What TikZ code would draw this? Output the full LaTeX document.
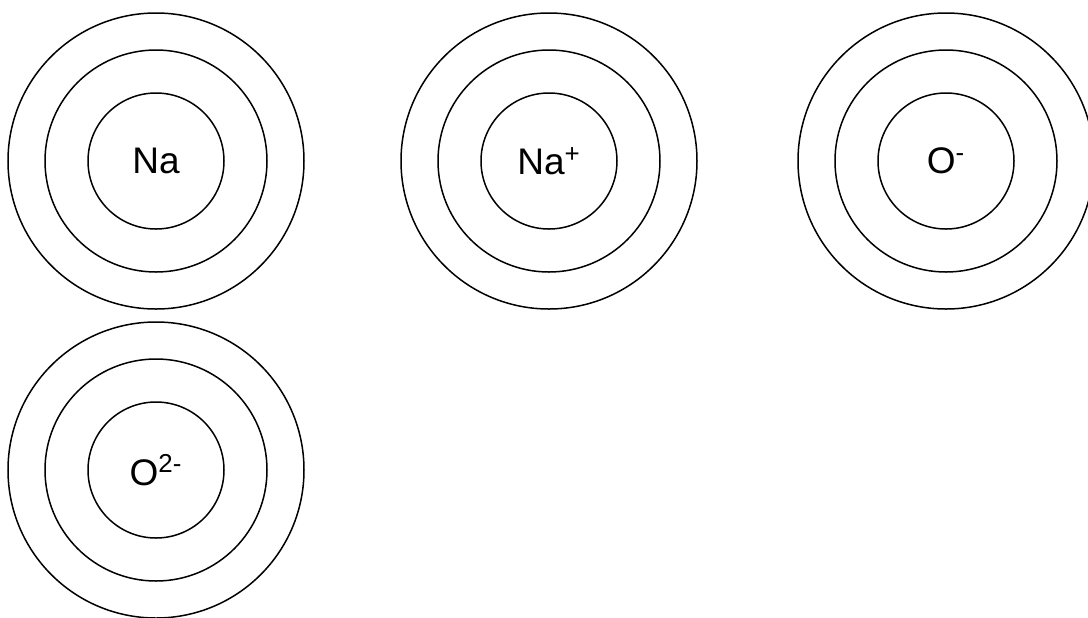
\documentclass[tikz,border=0pt]{standalone}
\usepackage{fontspec}
\setmainfont{Liberation Sans}
\usetikzlibrary{positioning}

\begin{document}
\begin{tikzpicture}[x=0.5pt, y=-0.5pt,
    shell/.style={draw, circle, line width=0.75pt, inner sep=0pt},
    symb/.style={font=\fontsize{18.5}{22}\selectfont}]
\def\ro{148}   % outer shell radius, px (= diameter in pt)
\def\rm{111}   % middle shell
\def\ri{68}    % inner shell

% page = 1088 x 617 px; circles running past the edge are cut
\clip (0,0) rectangle (1088,617);

% ================= the four ions =================
\foreach \name/\cx/\cy/\lab in {Na/156/161/{Na},
                                NaP/549/161/{Na\textsuperscript{+}},
                                Om/946/161/{O\textsuperscript{-}},
                                Odm/156/470/{O\textsuperscript{2-}}} {
  \node[shell, minimum size=\ro pt] (\name-outer) at (\cx,\cy) {};
  \node[shell, minimum size=\rm pt] (\name-mid) at (\cx,\cy) {};
  \node[shell, minimum size=\ri pt] (\name-in) at (\cx,\cy) {};
  \node[symb] (\name-lab) at (\name-in.center) {\lab};
}

\end{tikzpicture}
\end{document}
